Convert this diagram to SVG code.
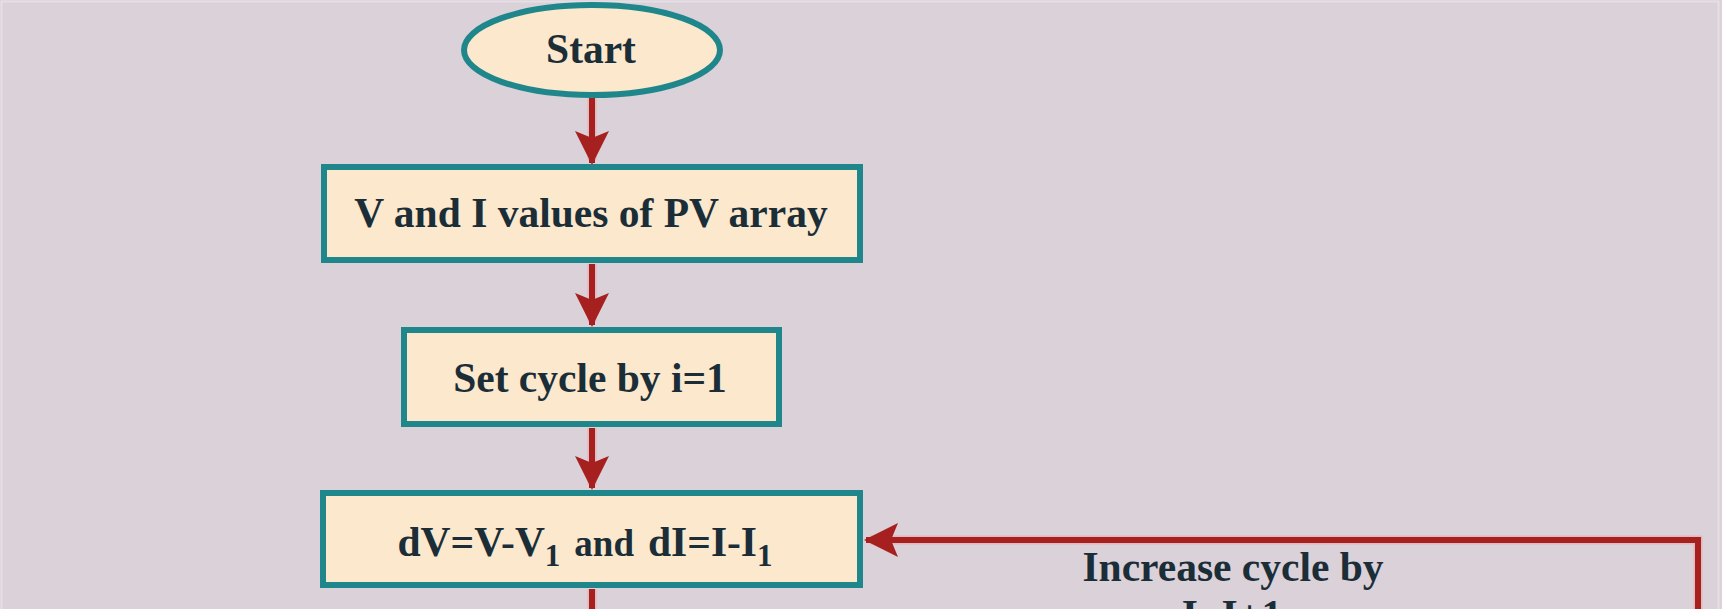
<svg xmlns="http://www.w3.org/2000/svg" width="1722" height="609" viewBox="0 0 1722 609">
  <style>
    .node { fill: #fce8cc; stroke: #1f878c; stroke-width: 6; }
    .label { font-family: "Liberation Serif", "Times New Roman", serif; font-weight: bold; font-size: 41.5px; fill: #1b2e38; text-anchor: middle; }
    .halo { fill: none; stroke: #e9a9a9; stroke-width: 9; stroke-opacity: 0.6; }
    .wire { fill: none; stroke: #a5201f; stroke-width: 6; }
  </style>
  <defs>
    <marker id="arrow" markerUnits="userSpaceOnUse" markerWidth="40" markerHeight="40" viewBox="-36 -20 40 40" refX="0" refY="0" orient="auto">
      <path d="M2,0 L-32,-17 L-25,0 L-32,17 Z" fill="#a5201f"/>
    </marker>
  </defs>
  <rect x="0" y="0" width="1722" height="609" fill="#dad1d9"/>
  <rect x="1.5" y="1.5" width="1717" height="620" fill="none" stroke="#e6dfe6" stroke-width="2"/>

  <g id="connectors">
    <path class="halo" d="M592,98 V160 M592,264 V322 M592,428 V485 M592,589 V609 M1698,609 V540 H870"/>
    <path class="wire" d="M592,98 V163" marker-end="url(#arrow)"/>
    <path class="wire" d="M592,264 V325" marker-end="url(#arrow)"/>
    <path class="wire" d="M592,428 V488" marker-end="url(#arrow)"/>
    <path class="wire" d="M592,589 V612"/>
    <path class="wire" d="M1698,612 V540 H866" marker-end="url(#arrow)"/>
    <text class="label" x="1233" y="581">Increase cycle by</text>
    <text class="label" x="1232" y="629">I=I+1</text>
  </g>

  <g id="start">
    <ellipse class="node" cx="592" cy="50" rx="128" ry="45"/>
    <text class="label" x="591" y="63">Start</text>
  </g>

  <g id="read-vi">
    <rect class="node" x="324" y="167" width="536" height="93"/>
    <text class="label" x="591" y="227">V and I values of PV array</text>
  </g>

  <g id="set-cycle">
    <rect class="node" x="404" y="330" width="375" height="94"/>
    <text class="label" x="590" y="392">Set cycle by i=1</text>
  </g>

  <g id="differences">
    <rect class="node" x="323" y="493" width="537" height="92"/>
    <text class="label" x="585" y="556">dV=V-V<tspan font-size="31" dy="10">1</tspan><tspan font-size="37" dx="14" dy="-10">and</tspan><tspan dx="14">dI=I-I</tspan><tspan font-size="31" dy="10">1</tspan></text>
  </g>
</svg>
